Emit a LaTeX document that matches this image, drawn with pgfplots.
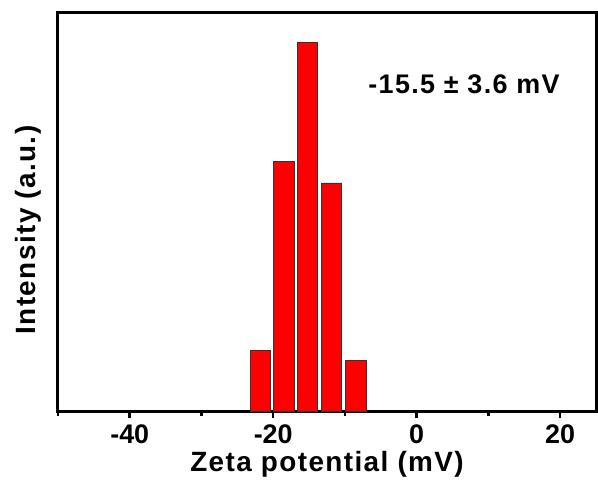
\documentclass[border=0pt]{standalone}
\usepackage{fontspec}
\setmainfont{Liberation Sans}
\usepackage{pgfplots}
\pgfplotsset{compat=1.18}

\begin{document}
\begin{tikzpicture}
\begin{axis}[
	at={(0,0)},anchor=south west,
	scale only axis,
	width=538bp,height=398bp,
	xmin=-50,xmax=25,
	ymin=0,ymax=100,
	axis line style={line width=3bp},
	xtick={-40,-20,0,20},
	xticklabels={-40,-20,0,20},
	minor xtick={-50,-30,-10,10},
	ytick=\empty,
	xtick pos=bottom,
	tick align=outside,
	major tick length=7bp,
	minor tick length=5bp,
	every tick/.style={line width=2.6bp,black},
	tick label style={font=\fontsize{27}{30}\selectfont\bfseries},
	xticklabel style={yshift=-3bp},
	xlabel={Zeta potential (mV)},
	ylabel={Intensity (a.u.)},
	label style={font=\fontsize{28}{32}\selectfont\bfseries\addfontfeatures{LetterSpace=5}},
	xlabel style={yshift=-1bp},
	ylabel style={yshift=6bp,xshift=-18bp},
	clip=false,
]
\addplot[ybar,bar width=2.85,fill=red,draw=black!80,line width=0.8bp]
	coordinates {(-21.8,15.3) (-18.5,62.6) (-15.2,92.5) (-11.9,57.3) (-8.5,12.6)};
\node[font=\fontsize{27}{30}\selectfont\bfseries\addfontfeatures{LetterSpace=5},anchor=center]
	at (axis cs:6.6,82) {-15.5 ± 3.6 mV};
\end{axis}
\path (-58bp,-81bp) rectangle (540bp,411bp);
\end{tikzpicture}
\end{document}
